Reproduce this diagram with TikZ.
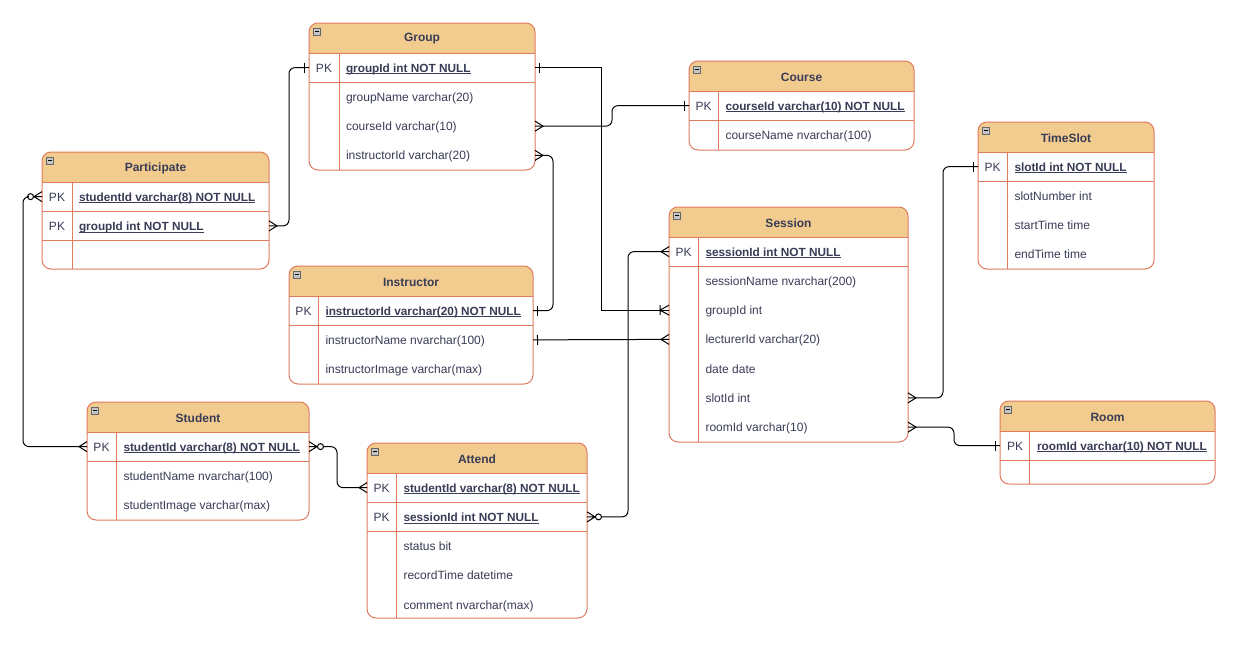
\documentclass[tikz,border=0pt]{standalone}
\usepackage{fontspec}
\setmainfont{Liberation Sans}
\usepackage{tikz}
\usetikzlibrary{positioning}
\definecolor{head}{HTML}{F2CC8F}
\definecolor{frame}{HTML}{E07A5F}
\definecolor{ink}{HTML}{393C56}

% ER ends
\pgfdeclarearrow{
  name = ermany,
  setup code = {
    \pgfarrowssettipend{0pt}
    \pgfarrowssetlineend{0pt}
    \pgfarrowssetbackend{-8pt}
  },
  drawing code = {
    \pgfpathmoveto{\pgfqpoint{0pt}{5pt}}
    \pgfpathlineto{\pgfqpoint{-8pt}{0pt}}
    \pgfpathlineto{\pgfqpoint{0pt}{-5pt}}
    \pgfusepathqstroke
  }
}
\pgfdeclarearrow{
  name = erzeromany,
  setup code = {
    \pgfarrowssettipend{0pt}
    \pgfarrowssetlineend{-14.5pt}
    \pgfarrowssetbackend{-14.5pt}
  },
  drawing code = {
    \pgfpathmoveto{\pgfqpoint{0pt}{5pt}}
    \pgfpathlineto{\pgfqpoint{-8pt}{0pt}}
    \pgfpathlineto{\pgfqpoint{0pt}{-5pt}}
    \pgfpathmoveto{\pgfqpoint{-8.5pt}{0pt}}
    \pgfpathlineto{\pgfqpoint{0pt}{0pt}}
    \pgfpathcircle{\pgfqpoint{-11.5pt}{0pt}}{3pt}
    \pgfusepathqstroke
  }
}
\pgfdeclarearrow{
  name = erone,
  setup code = {
    \pgfarrowssettipend{0pt}
    \pgfarrowssetlineend{0pt}
    \pgfarrowssetbackend{-5pt}
  },
  drawing code = {
    \pgfpathmoveto{\pgfqpoint{-4.5pt}{5pt}}
    \pgfpathlineto{\pgfqpoint{-4.5pt}{-5pt}}
    \pgfusepathqstroke
  }
}
\pgfdeclarearrow{
  name = eronemany,
  setup code = {
    \pgfarrowssettipend{0pt}
    \pgfarrowssetlineend{0pt}
    \pgfarrowssetbackend{-9pt}
  },
  drawing code = {
    \pgfpathmoveto{\pgfqpoint{0pt}{5pt}}
    \pgfpathlineto{\pgfqpoint{-9pt}{0pt}}
    \pgfpathlineto{\pgfqpoint{0pt}{-5pt}}
    \pgfpathmoveto{\pgfqpoint{-9pt}{5pt}}
    \pgfpathlineto{\pgfqpoint{-9pt}{-5pt}}
    \pgfusepathqstroke
  }
}

\begin{document}
\begin{tikzpicture}[x=1pt, y=-1pt,
    every node/.style={font=\fontsize{12}{14}\selectfont, text=ink},
    tbl/.style={draw=frame, line width=1pt, rounded corners=9pt, anchor=north west,
      inner sep=0pt, outer sep=0pt, fill=white,
      path picture={\fill[head, sharp corners] (path picture bounding box.north west)
        rectangle ([yshift=-30pt]path picture bounding box.north east);}},
    title/.style={font=\fontsize{12}{14}\selectfont\bfseries},
    minbox/.style={draw=gray!80!black, fill=gray!45, line width=.6pt, inner sep=0pt,
      minimum width=7.5pt, minimum height=7pt,
      path picture={\draw[black, line width=1.2pt] ([xshift=1.5pt]path picture bounding box.west)
        -- ([xshift=-1.5pt]path picture bounding box.east);}},
    field/.style={inner sep=0pt, outer sep=0pt, minimum height=29.25pt, text height=10.5pt, text depth=1.5pt},
    pkfield/.style={field, font=\fontsize{11.8}{14}\selectfont\bfseries},
    key/.style={inner sep=0pt, text height=10.5pt, text depth=1.5pt},
    nextrow/.style={below=0pt of #1.south west, anchor=north west},
    sep/.style={draw=frame, line width=1pt},
    conn/.style={draw=black, line width=1pt, rounded corners=6pt}]
  \fill[white] (0,0) rectangle (1240,648);

  % Group
  \node[tbl, minimum width=226pt, minimum height=147pt] (grp) at (309,23) {};
  \node[title] (grp-t) at ([yshift=-16pt]grp.north) {Group};
  \node[minbox] (grp-m) at ([shift={(8pt,-8.5pt)}]grp.north west) {};
  \node[pkfield, below right=30pt and 37pt of grp.north west] (grp-id) {\underline{\smash{groupId int NOT NULL}}};
  \node[field, nextrow=grp-id] (grp-name) {groupName varchar(20)};
  \node[field, nextrow=grp-name] (grp-cid) {courseId varchar(10)};
  \node[field, nextrow=grp-cid] (grp-iid) {instructorId varchar(20)};
  \node[key] (grp-k1) at ([xshift=-22pt]grp-id.west) {PK};
  \draw[sep] (grp.west |- grp-id.north) -- (grp.east |- grp-id.north)
    (grp.west |- grp-id.south) -- (grp.east |- grp-id.south);
  \draw[sep] ([xshift=-7pt]grp-id.north west) coordinate (grp-d) -- (grp-d |- grp.south);

  % Participate
  \node[tbl, minimum width=227pt, minimum height=117pt] (par) at (42,152) {};
  \node[title] (par-t) at ([yshift=-16pt]par.north) {Participate};
  \node[minbox] (par-m) at ([shift={(8pt,-8.5pt)}]par.north west) {};
  \node[pkfield, below right=30pt and 37pt of par.north west] (par-sid) {\underline{\smash{studentId varchar(8) NOT NULL}}};
  \node[pkfield, nextrow=par-sid] (par-gid) {\underline{\smash{groupId int NOT NULL}}};
  \node[key] (par-k1) at ([xshift=-22pt]par-sid.west) {PK};
  \node[key] (par-k2) at ([xshift=-22pt]par-gid.west) {PK};
  \draw[sep] (par.west |- par-sid.north) -- (par.east |- par-sid.north)
    (par.west |- par-sid.south) -- (par.east |- par-sid.south)
    (par.west |- par-gid.south) -- (par.east |- par-gid.south);
  \draw[sep] ([xshift=-7pt]par-sid.north west) coordinate (par-d) -- (par-d |- par.south);

  % Course
  \node[tbl, minimum width=225pt, minimum height=89pt] (crs) at (689,61) {};
  \node[title] (crs-t) at ([yshift=-16pt]crs.north) {Course};
  \node[minbox] (crs-m) at ([shift={(8pt,-8.5pt)}]crs.north west) {};
  \node[pkfield, below right=30pt and 36.5pt of crs.north west] (crs-id) {\underline{\smash{courseId varchar(10) NOT NULL}}};
  \node[field, nextrow=crs-id] (crs-name) {courseName nvarchar(100)};
  \node[key] (crs-k1) at ([xshift=-22pt]crs-id.west) {PK};
  \draw[sep] (crs.west |- crs-id.north) -- (crs.east |- crs-id.north)
    (crs.west |- crs-id.south) -- (crs.east |- crs-id.south);
  \draw[sep] ([xshift=-7.5pt]crs-id.north west) coordinate (crs-d) -- (crs-d |- crs.south);

  % TimeSlot
  \node[tbl, minimum width=176pt, minimum height=147pt] (tms) at (978,122) {};
  \node[title] (tms-t) at ([yshift=-16pt]tms.north) {TimeSlot};
  \node[minbox] (tms-m) at ([shift={(8pt,-8.5pt)}]tms.north west) {};
  \node[pkfield, below right=30pt and 36.5pt of tms.north west] (tms-id) {\underline{\smash{slotId int NOT NULL}}};
  \node[field, nextrow=tms-id] (tms-num) {slotNumber int};
  \node[field, nextrow=tms-num] (tms-start) {startTime time};
  \node[field, nextrow=tms-start] (tms-end) {endTime time};
  \node[key] (tms-k1) at ([xshift=-22pt]tms-id.west) {PK};
  \draw[sep] (tms.west |- tms-id.north) -- (tms.east |- tms-id.north)
    (tms.west |- tms-id.south) -- (tms.east |- tms-id.south);
  \draw[sep] ([xshift=-7.5pt]tms-id.north west) coordinate (tms-d) -- (tms-d |- tms.south);

  % Session
  \node[tbl, minimum width=239pt, minimum height=235pt] (ses) at (669,207) {};
  \node[title] (ses-t) at ([yshift=-16pt]ses.north) {Session};
  \node[minbox] (ses-m) at ([shift={(8pt,-8.5pt)}]ses.north west) {};
  \node[pkfield, below right=30pt and 36.5pt of ses.north west] (ses-id) {\underline{\smash{sessionId int NOT NULL}}};
  \node[field, nextrow=ses-id] (ses-name) {sessionName nvarchar(200)};
  \node[field, nextrow=ses-name] (ses-gid) {groupId int};
  \node[field, nextrow=ses-gid] (ses-lid) {lecturerId varchar(20)};
  \node[field, nextrow=ses-lid] (ses-date) {date date};
  \node[field, nextrow=ses-date] (ses-slot) {slotId int};
  \node[field, nextrow=ses-slot] (ses-room) {roomId varchar(10)};
  \node[key] (ses-k1) at ([xshift=-22pt]ses-id.west) {PK};
  \draw[sep] (ses.west |- ses-id.north) -- (ses.east |- ses-id.north)
    (ses.west |- ses-id.south) -- (ses.east |- ses-id.south);
  \draw[sep] ([xshift=-7.5pt]ses-id.north west) coordinate (ses-d) -- (ses-d |- ses.south);

  % Instructor
  \node[tbl, minimum width=244pt, minimum height=118pt] (ins) at (289,266) {};
  \node[title] (ins-t) at ([yshift=-16pt]ins.north) {Instructor};
  \node[minbox] (ins-m) at ([shift={(8pt,-8.5pt)}]ins.north west) {};
  \node[pkfield, below right=30pt and 36.5pt of ins.north west] (ins-id) {\underline{\smash{instructorId varchar(20) NOT NULL}}};
  \node[field, nextrow=ins-id] (ins-name) {instructorName nvarchar(100)};
  \node[field, nextrow=ins-name] (ins-img) {instructorImage varchar(max)};
  \node[key] (ins-k1) at ([xshift=-22pt]ins-id.west) {PK};
  \draw[sep] (ins.west |- ins-id.north) -- (ins.east |- ins-id.north)
    (ins.west |- ins-id.south) -- (ins.east |- ins-id.south);
  \draw[sep] ([xshift=-7.5pt]ins-id.north west) coordinate (ins-d) -- (ins-d |- ins.south);

  % Student
  \node[tbl, minimum width=222pt, minimum height=118pt] (stu) at (87,402) {};
  \node[title] (stu-t) at ([yshift=-16pt]stu.north) {Student};
  \node[minbox] (stu-m) at ([shift={(8pt,-8.5pt)}]stu.north west) {};
  \node[pkfield, below right=30pt and 36.5pt of stu.north west] (stu-id) {\underline{\smash{studentId varchar(8) NOT NULL}}};
  \node[field, nextrow=stu-id] (stu-name) {studentName nvarchar(100)};
  \node[field, nextrow=stu-name] (stu-img) {studentImage varchar(max)};
  \node[key] (stu-k1) at ([xshift=-22pt]stu-id.west) {PK};
  \draw[sep] (stu.west |- stu-id.north) -- (stu.east |- stu-id.north)
    (stu.west |- stu-id.south) -- (stu.east |- stu-id.south);
  \draw[sep] ([xshift=-7.5pt]stu-id.north west) coordinate (stu-d) -- (stu-d |- stu.south);

  % Attend
  \node[tbl, minimum width=220pt, minimum height=175pt] (att) at (367,443) {};
  \node[title] (att-t) at ([yshift=-16pt]att.north) {Attend};
  \node[minbox] (att-m) at ([shift={(8pt,-8.5pt)}]att.north west) {};
  \node[pkfield, below right=30pt and 36.5pt of att.north west] (att-sid) {\underline{\smash{studentId varchar(8) NOT NULL}}};
  \node[pkfield, nextrow=att-sid] (att-ses) {\underline{\smash{sessionId int NOT NULL}}};
  \node[field, nextrow=att-ses] (att-st) {status bit};
  \node[field, nextrow=att-st] (att-rec) {recordTime datetime};
  \node[field, nextrow=att-rec] (att-com) {comment nvarchar(max)};
  \node[key] (att-k1) at ([xshift=-22pt]att-sid.west) {PK};
  \node[key] (att-k2) at ([xshift=-22pt]att-ses.west) {PK};
  \draw[sep] (att.west |- att-sid.north) -- (att.east |- att-sid.north)
    (att.west |- att-sid.south) -- (att.east |- att-sid.south)
    (att.west |- att-ses.south) -- (att.east |- att-ses.south);
  \draw[sep] ([xshift=-7.5pt]att-sid.north west) coordinate (att-d) -- (att-d |- att.south);

  % Room
  \node[tbl, minimum width=215pt, minimum height=83pt] (rom) at (1000,401) {};
  \node[title] (rom-t) at ([yshift=-16pt]rom.north) {Room};
  \node[minbox] (rom-m) at ([shift={(8pt,-8.5pt)}]rom.north west) {};
  \node[pkfield, below right=30pt and 37pt of rom.north west] (rom-id) {\underline{\smash{roomId varchar(10) NOT NULL}}};
  \node[key] (rom-k1) at ([xshift=-22pt]rom-id.west) {PK};
  \draw[sep] (rom.west |- rom-id.north) -- (rom.east |- rom-id.north)
    (rom.west |- rom-id.south) -- (rom.east |- rom-id.south);
  \draw[sep] ([xshift=-7.5pt]rom-id.north west) coordinate (rom-d) -- (rom-d |- rom.south);

  % relations
  \draw[conn, ermany-erone] (par.east |- par-gid) -- ++(20,0) |- (grp.west |- grp-id);
  \draw[conn, erzeromany-ermany] (par.west |- par-sid) -- ++(-19,0) |- (stu.west |- stu-id);
  \draw[conn, erzeromany-ermany] (stu.east |- stu-id) -- ++(28,0) |- (att.west |- att-sid);
  \draw[conn, erzeromany-ermany] (att.east |- att-ses) -- ++(41,0) |- (ses.west |- ses-id);
  \draw[conn, sharp corners, erone-eronemany] (grp.east |- grp-id) -- ++(66,0) |- (ses.west |- ses-gid);
  \draw[conn, ermany-erone] (grp.east |- grp-cid) -- ++(77,0) |- (crs.west |- crs-id);
  \draw[conn, ermany-erone] (grp.east |- grp-iid) -- ++(18,0) |- (ins.east |- ins-id);
  \draw[conn, erone-ermany] (ins.east |- ins-name) -- (ses.west |- ses-lid);
  \draw[conn, ermany-erone] (ses.east |- ses-slot) -- ++(35,0) |- (tms.west |- tms-id);
  \draw[conn, ermany-erone] (ses.east |- ses-room) -- ++(46,0) |- (rom.west |- rom-id);
\end{tikzpicture}
\end{document}
